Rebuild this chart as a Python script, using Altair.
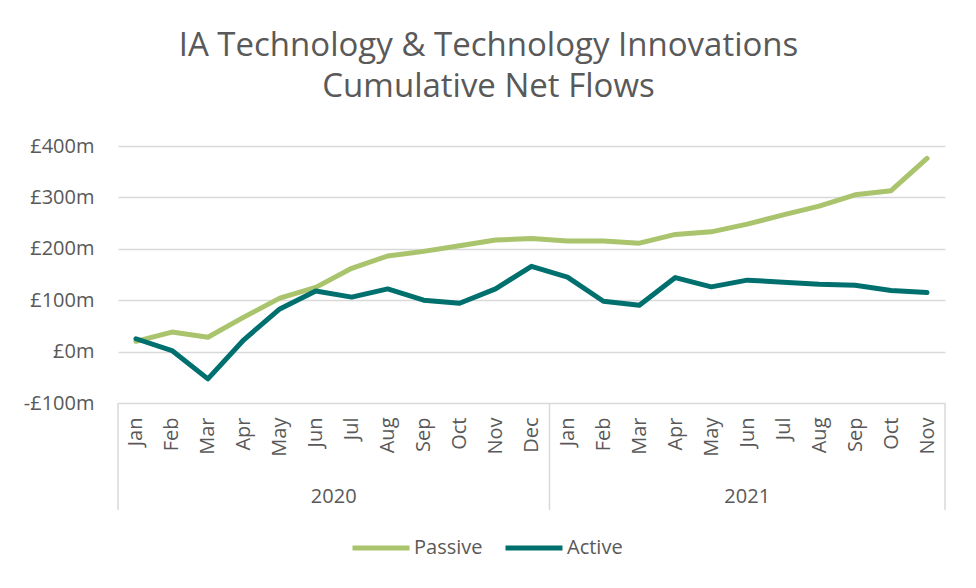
import altair as alt
import pandas as pd

months_2020 = ["Jan", "Feb", "Mar", "Apr", "May", "Jun", "Jul", "Aug", "Sep", "Oct", "Nov", "Dec"]
months_2021 = ["Jan", "Feb", "Mar", "Apr", "May", "Jun", "Jul", "Aug", "Sep", "Oct", "Nov"]
years = ["2020", "2021"]
passive = [20, 38, 28, 67, 104, 125, 162, 186, 195, 206, 217, 220,
           215, 215, 211, 228, 233, 248, 266, 283, 305, 313, 376]
active = [25, 2, -53, 23, 83, 118, 106, 122, 100, 94, 122, 166,
          145, 98, 90, 144, 126, 139, 135, 131, 129, 119, 115]
series_names = ["Passive", "Active"]
series_colors = ["#A9C46C", "#00706F"]
y_ticks = [-100, 0, 100, 200, 300, 400]

month_labels = months_2020 + months_2021
year_of = ["2020"] * len(months_2020) + ["2021"] * len(months_2021)
n = len(month_labels)

rows = []
for name, vals in zip(series_names, [passive, active]):
    for i, v in enumerate(vals):
        rows.append({"i": i, "month": month_labels[i], "year": year_of[i], "series": name, "value": v})
df = pd.DataFrame(rows)

counts = [len(months_2020), len(months_2021)]
starts = [0, counts[0]]
year_df = pd.DataFrame({"year": years, "start": starts, "count": counts})
bounds_df = pd.DataFrame({"b": [0, counts[0], counts[0] + counts[1]]})

W, H = 827, 257
FONT = "Open Sans"
GREY = "#595959"
GRID = "#D9D9D9"

xscale = alt.Scale(domain=[0, n], nice=False, zero=False)
month_js = "[" + ",".join("'" + m + "'" for m in month_labels) + "]"

lines = alt.Chart(df).transform_calculate(pos="datum.i + 0.5").mark_line(
    strokeWidth=5, strokeCap="round", strokeJoin="round"
).encode(
    x=alt.X("pos:Q", scale=xscale,
            axis=alt.Axis(values=[i + 0.5 for i in range(n)],
                          labelExpr=month_js + "[floor(datum.value)]",
                          labelAngle=270, labelAlign="right", labelBaseline="middle",
                          labelFontSize=20, labelColor=GREY, labelFont=FONT,
                          labelPadding=14, ticks=False, domain=False, grid=False,
                          title=None, labelOverlap=False, labelBound=False,
                          labelFlush=False)),
    y=alt.Y("value:Q", scale=alt.Scale(domain=[-100, 400], nice=False),
            axis=alt.Axis(values=y_ticks,
                          labelExpr="(datum.value < 0 ? '-£' : '£') + abs(datum.value) + 'm'",
                          labelFontSize=20, labelColor=GREY, labelFont=FONT,
                          labelPadding=24, ticks=False, domain=False,
                          gridColor=GRID, gridWidth=1.5, title=None)),
    color=alt.Color("series:N",
                    scale=alt.Scale(domain=series_names, range=series_colors),
                    legend=alt.Legend(orient="none", legendX=232, legendY=371,
                                      direction="horizontal", title=None,
                                      symbolType="stroke", symbolSize=3249,
                                      symbolStrokeWidth=5, labelFontSize=20,
                                      labelColor=GREY, labelFont=FONT,
                                      labelOffset=2, columnPadding=12)),
    order="i:Q",
)

dividers = alt.Chart(bounds_df).mark_rule(color=GRID, strokeWidth=1.5).encode(
    x=alt.X("b:Q", scale=xscale, axis=None),
    y=alt.value(H),
    y2=alt.value(H + 107),
)

year_text = alt.Chart(year_df).transform_calculate(
    mid="datum.start + datum.count / 2"
).mark_text(fontSize=20, font=FONT, color=GREY, baseline="middle").encode(
    x=alt.X("mid:Q", scale=xscale, axis=None),
    y=alt.value(H + 94),
    text="year:N",
)

chart = alt.layer(lines, dividers, year_text).resolve_axis(x="independent").properties(
    width=W, height=H,
    autosize=alt.AutoSizeParams(type="none"),
    padding={"left": 110, "top": 138, "right": 23, "bottom": 170},
    title=alt.Title(["IA Technology & Technology Innovations", "Cumulative Net Flows"],
                    fontSize=33, font=FONT, fontWeight="normal", color=GREY,
                    anchor="middle", frame="group", dx=-43, offset=32, lineHeight=41),
).configure_view(stroke=None)

chart.save("out.html", embed_options={"renderer": "svg", "actions": False})
